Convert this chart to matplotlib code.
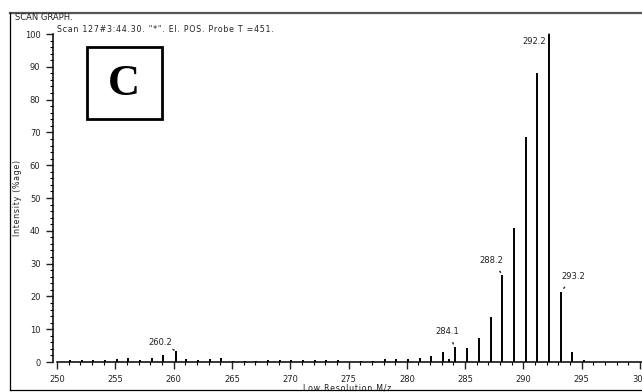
import matplotlib.pyplot as plt
from matplotlib.ticker import MultipleLocator
from matplotlib.patches import Rectangle

# peak list: m/z and relative intensity (%)
mz = [251.1, 252.1, 253.1, 254.1, 255.1, 256.1, 257.1, 258.1, 259.1, 260.2,
      261.1, 262.1, 263.1, 264.1, 265.1, 266.1, 267.1, 268.1, 269.1, 270.1,
      271.1, 272.1, 273.1, 274.1, 276.1, 277.1, 278.1, 279.1, 280.1, 281.1,
      282.1, 283.1, 283.6, 284.1, 285.2, 286.2, 287.2, 288.2, 289.2, 290.2,
      291.2, 292.2, 293.2, 294.2, 295.2]
intensity = [0.5, 0.6, 0.5, 0.7, 0.8, 1.3, 0.7, 1.2, 2.0, 3.3,
             0.9, 0.7, 0.8, 1.3, 0.4, 0.3, 0.3, 0.5, 0.5, 0.6,
             0.5, 0.5, 0.6, 0.7, 0.3, 0.4, 0.8, 0.8, 1.0, 1.2,
             1.8, 3.0, 0.8, 4.7, 4.3, 7.3, 13.8, 26.6, 41.0, 68.5,
             88.0, 100.0, 21.4, 3.0, 0.6]

# labelled peaks and label offsets (pixels)
labelled = ["260.2", "284.1", "288.2", "292.2", "293.2"]
offsets = [(-16, 9), (-7, 15), (-11, 14), (-15, -7), (13, 15)]


def spaced(s):
    # printer-style letter spacing
    return '\u200a'.join(s)


W, H = 642, 392
fig = plt.figure(figsize=(W / 100, H / 100), dpi=100)

# outer frame of the printout
fig.add_artist(plt.Line2D([10 / W, 1], [1 - 13 / H] * 2, color='#555555', lw=1.6))
fig.add_artist(plt.Line2D([10 / W] * 2, [2 / H, 1 - 13 / H], color='black', lw=0.9))
fig.add_artist(plt.Line2D([10 / W, 1], [2 / H] * 2, color='black', lw=0.9))

ax = fig.add_axes([53 / W, 30 / H, 594 / W, 328 / H])
ax.vlines(mz, 0, intensity, color='black', lw=1.4)
ax.set_xlim(249.65, 300.6)
ax.set_ylim(0, 100)

for s in ['top', 'right']:
    ax.spines[s].set_visible(False)
ax.spines['bottom'].set_bounds(250, 300.6)
ax.spines['left'].set_bounds(0, 100)
ax.spines['left'].set_linewidth(1.1)
ax.spines['bottom'].set_linewidth(1.1)

ax.xaxis.set_major_locator(MultipleLocator(5))
ax.xaxis.set_minor_locator(MultipleLocator(1))
ax.yaxis.set_major_locator(MultipleLocator(10))
ax.yaxis.set_minor_locator(MultipleLocator(2))
ax.tick_params(which='major', length=5, width=1, labelsize=6, colors='#222222', pad=4)
ax.tick_params(which='minor', length=2.5, width=0.8)
ax.set_xticks(range(250, 301, 5))
ax.set_xticklabels([str(v) for v in range(250, 301, 5)])

ax.set_xlabel(spaced('Low Resolution M/z'), fontsize=5.7, color='#222222')
ax.xaxis.set_label_coords(0.495, -0.065)
ax.set_ylabel(spaced('Intensity (%age)'), fontsize=5.7, color='#222222')
ax.yaxis.set_label_coords(-0.052, 0.5)

for lab, (dx, dy) in zip(labelled, offsets):
    i = mz.index(float(lab))
    ax.annotate(lab, xy=(mz[i], intensity[i]), xytext=(dx, dy),
                textcoords='offset pixels', ha='center', va='center',
                fontsize=6, color='#222222',
                arrowprops=dict(arrowstyle='-', ls=(0, (1, 3)), lw=1,
                                color='#222222', shrinkA=3, shrinkB=1))

fig.text(15 / W, 1 - 17 / H, 'SCAN GRAPH.', fontsize=6, color='#222222', va='center')
fig.text(57 / W, 1 - 29 / H, spaced('Scan 127#3:44.30. "*". EI. POS. Probe T =451.'),
         fontsize=5.7, color='#222222', va='center')

# boxed panel letter
fig.add_artist(Rectangle((87 / W, 1 - 119 / H), 75 / W, 72 / H,
                         fill=False, lw=2, ec='black', transform=fig.transFigure))
fig.text(124 / W, 1 - 84 / H, 'C', fontsize=32, fontweight='bold',
         family='Liberation Serif', ha='center', va='center')

fig.savefig('out.png', dpi=100)
